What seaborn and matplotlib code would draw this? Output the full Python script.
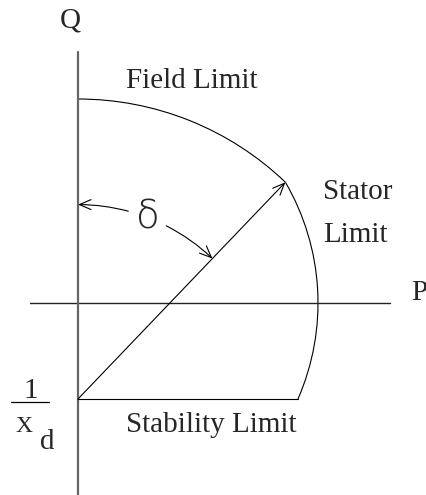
import numpy as np
import seaborn as sns
import matplotlib.pyplot as plt
from matplotlib.patches import Arc

# per-unit quantities (stator rating = 1.0)
stator_radius = 1.0
inv_xd = 0.4
field_radius = 1.25
delta_radius = 0.81

# axis extents
p_axis = [-0.2, 1.3]
q_axis = [1.046, -0.8]

# angles (deg) of the limit curves
stab_angle = np.degrees(np.arcsin(-inv_xd / stator_radius))
# corner where field limit meets stator limit
corner_y = (field_radius**2 - stator_radius**2 - inv_xd**2) / (2 * inv_xd)
corner_x = np.sqrt(stator_radius**2 - corner_y**2)
corner_angle_o = np.degrees(np.arctan2(corner_y, corner_x))
corner_angle_f = np.degrees(np.arctan2(corner_y + inv_xd, corner_x))

sns.set_theme(style="white")
plt.rcParams['font.family'] = ['Liberation Serif', 'DejaVu Serif']

fig = plt.figure(figsize=(4.26, 4.95), dpi=100)
ax = fig.add_axes([0, 0, 1, 1])
ax.set_xlim(-78 / 240, 348 / 240)
ax.set_ylim(-192 / 240, 303 / 240)
ax.set_aspect('equal')
ax.axis('off')

# P and Q axes
sns.lineplot(x=p_axis, y=[0, 0], ax=ax, color='#222222', lw=1.0,
             sort=False, estimator=None)
sns.lineplot(x=[0, 0], y=q_axis, ax=ax, color='#666666', lw=1.6,
             sort=False, estimator=None)

# stability limit
stab_x = [0, stator_radius * np.cos(np.radians(stab_angle))]
sns.lineplot(x=stab_x, y=[-inv_xd, -inv_xd], ax=ax, color='black', lw=0.8,
             sort=False, estimator=None)

# stator limit (centred at origin)
ax.add_patch(Arc((0, 0), 2 * stator_radius, 2 * stator_radius,
                 theta1=stab_angle, theta2=corner_angle_o, color='black', lw=0.8))
# field limit (centred at -1/Xd)
ax.add_patch(Arc((0, -inv_xd), 2 * field_radius, 2 * field_radius,
                 theta1=corner_angle_f, theta2=90, color='black', lw=0.8))

head = dict(arrowstyle='->,head_length=0.7,head_width=0.3', mutation_scale=12,
            color='black', lw=0.8, shrinkA=0, shrinkB=0)

# radial arrow
ax.annotate('', xy=(corner_x, corner_y), xytext=(0, -inv_xd), arrowprops=head)


def on_delta(a):
    t = np.radians(a)
    return (delta_radius * np.cos(t), -inv_xd + delta_radius * np.sin(t))


# delta angle arcs
ax.annotate('', xy=on_delta(90), xytext=on_delta(75),
            arrowprops=dict(head, connectionstyle='arc3,rad=0.066'))
ax.annotate('', xy=on_delta(corner_angle_f), xytext=on_delta(63),
            arrowprops=dict(head, connectionstyle='arc3,rad=-0.073'))
ax.text(0.29, 0.356, 'δ', fontsize=28, ha='center', va='center',
        fontweight='light', family=['DejaVu Sans'])

fs = 21
ax.text(-0.033, 1.175, 'Q', fontsize=fs, ha='center', va='center')
ax.text(1.3875, 0.0125, 'P', fontsize=fs, ha='left', va='baseline')
ax.text(0.2, 0.896, 'Field Limit', fontsize=fs, ha='left', va='baseline')
ax.text(1.021, 0.433, 'Stator', fontsize=fs, ha='left', va='baseline')
ax.text(1.021, 0.254, 'Limit', fontsize=fs, ha='left', va='baseline')
ax.text(0.2, -0.5375, 'Stability Limit', fontsize=fs, ha='left', va='baseline')

# 1 / X_d label
ax.text(-0.196, -0.396, '1', fontsize=fs, ha='center', va='baseline')
sns.lineplot(x=[-0.279, -0.121], y=[-0.4125, -0.4125], ax=ax, color='black',
             lw=0.9, sort=False, estimator=None)
ax.text(-0.2625, -0.5375, 'X', fontsize=17, ha='left', va='baseline')
ax.text(-0.158, -0.608, 'd', fontsize=fs, ha='left', va='baseline')

plt.savefig('out.png', dpi=100)
